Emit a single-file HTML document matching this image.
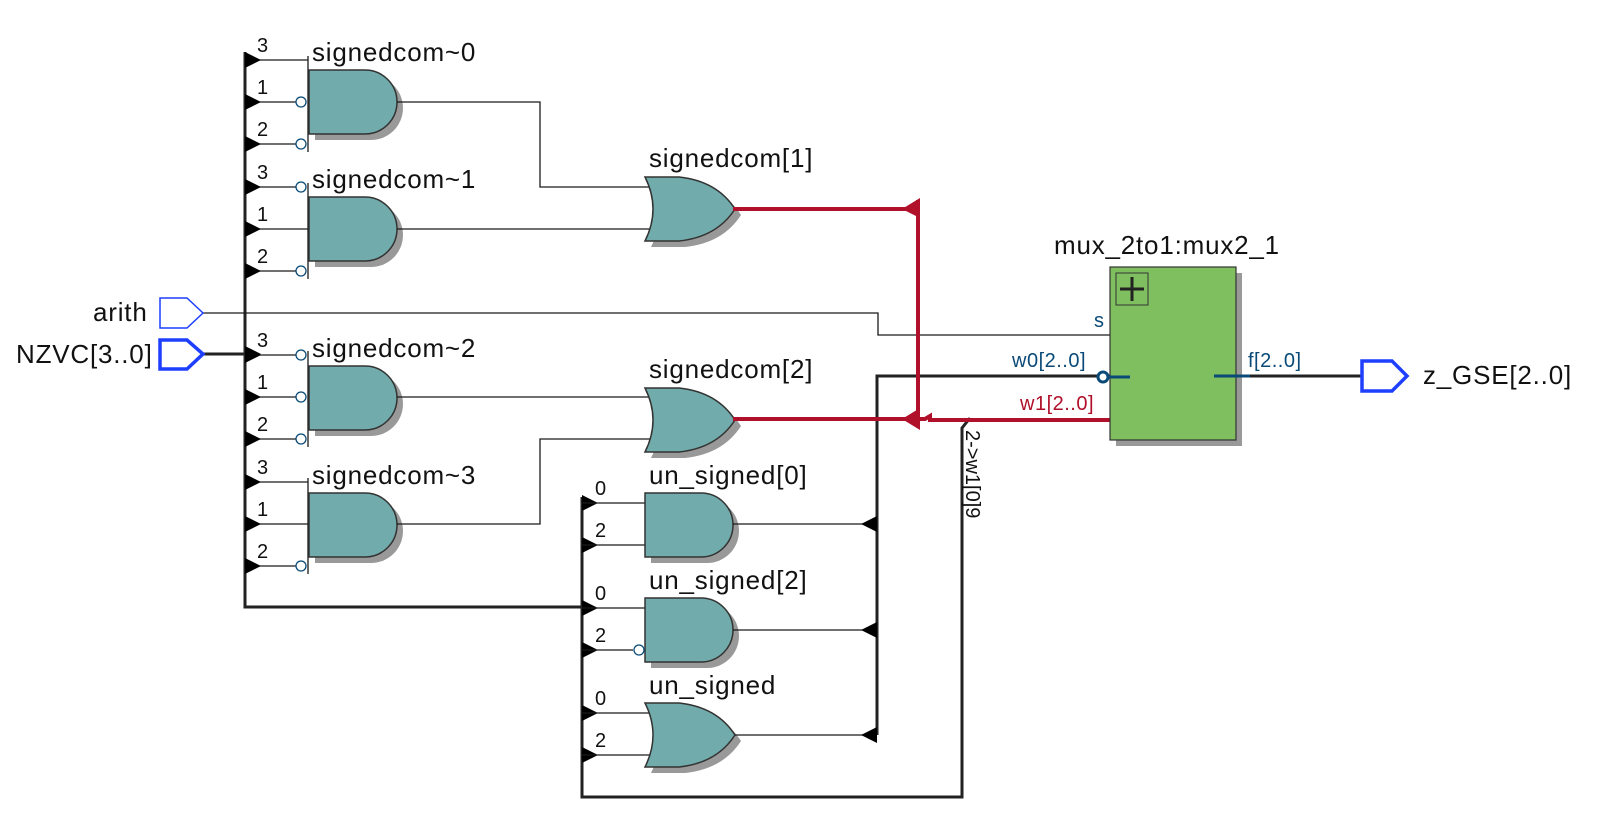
<!DOCTYPE html>
<html><head><meta charset="utf-8"><style>
html,body{margin:0;padding:0;background:#fff;width:1599px;height:839px;overflow:hidden}
svg{display:block}
text{font-family:"Liberation Sans",sans-serif}
.lbl{font-size:26px;fill:#111;letter-spacing:0.8px}
.num{font-size:20px;fill:#111}
.w{stroke:#1a1a1a;stroke-width:1.3;fill:none}
.wb{stroke:#222;stroke-width:3;fill:none}
.r{stroke:#b0102a;stroke-width:4;fill:none}
.g{fill:#71abab;stroke:#333;stroke-width:1.5}
.sh{fill:#999}
.bub{fill:#fff;stroke:#0a4a78;stroke-width:1.3}
</style></head><body>
<svg width="1599" height="839" viewBox="0 0 1599 839">
<defs>
<g id="and">
<path class="sh" d="M6 6 H62 A32 32 0 0 1 62 70 H6 Z"/>
<path class="g" d="M0 0 H56 A32 32 0 0 1 56 64 H0 Z"/>
</g>
<g id="or">
<path class="sh" d="M6 6 H40 Q78 10 96 38 Q78 66 40 70 H6 Q22 38 6 6 Z"/>
<path class="g" d="M0 0 H34 Q72 4 90 32 Q72 60 34 64 H0 Q16 32 0 0 Z"/>
</g>
<path id="tri" d="M0 -8 L16 0 L0 8 Z" fill="#000"/>
<path id="tril" d="M0 -8 L-16 0 L0 8 Z" fill="#000"/>
</defs>

<path class="wb" d="M245 52 V607 H582"/>
<g>
<line class="w" x1="308" y1="56" x2="308" y2="152"/>
<line class="w" x1="245" y1="60" x2="308" y2="60"/>
<line class="w" x1="245" y1="102" x2="296" y2="102"/>
<line class="w" x1="245" y1="144" x2="296" y2="144"/>
<use href="#and" x="309" y="70"/>
<circle class="bub" cx="301" cy="102" r="5"/><circle class="bub" cx="301" cy="144" r="5"/>
<use href="#tri" x="245" y="60"/><use href="#tri" x="245" y="102"/><use href="#tri" x="245" y="144"/>
<text class="num" x="257" y="52">3</text><text class="num" x="257" y="94">1</text><text class="num" x="257" y="136">2</text>
<text class="lbl" x="312" y="61">signedcom~0</text>

<line class="w" x1="308" y1="183" x2="308" y2="279"/>
<line class="w" x1="245" y1="187" x2="296" y2="187"/>
<line class="w" x1="245" y1="229" x2="308" y2="229"/>
<line class="w" x1="245" y1="271" x2="296" y2="271"/>
<use href="#and" x="309" y="197"/>
<circle class="bub" cx="301" cy="187" r="5"/><circle class="bub" cx="301" cy="271" r="5"/>
<use href="#tri" x="245" y="187"/><use href="#tri" x="245" y="229"/><use href="#tri" x="245" y="271"/>
<text class="num" x="257" y="179">3</text><text class="num" x="257" y="221">1</text><text class="num" x="257" y="263">2</text>
<text class="lbl" x="312" y="188">signedcom~1</text>

<line class="w" x1="308" y1="351" x2="308" y2="447"/>
<line class="w" x1="245" y1="355" x2="296" y2="355"/>
<line class="w" x1="245" y1="397" x2="296" y2="397"/>
<line class="w" x1="245" y1="439" x2="296" y2="439"/>
<use href="#and" x="309" y="366"/>
<circle class="bub" cx="301" cy="355" r="5"/><circle class="bub" cx="301" cy="397" r="5"/><circle class="bub" cx="301" cy="439" r="5"/>
<use href="#tri" x="245" y="355"/><use href="#tri" x="245" y="397"/><use href="#tri" x="245" y="439"/>
<text class="num" x="257" y="347">3</text><text class="num" x="257" y="389">1</text><text class="num" x="257" y="431">2</text>
<text class="lbl" x="312" y="357">signedcom~2</text>

<line class="w" x1="308" y1="478" x2="308" y2="574"/>
<line class="w" x1="245" y1="482" x2="308" y2="482"/>
<line class="w" x1="245" y1="524" x2="308" y2="524"/>
<line class="w" x1="245" y1="566" x2="296" y2="566"/>
<use href="#and" x="309" y="493"/>
<circle class="bub" cx="301" cy="566" r="5"/>
<use href="#tri" x="245" y="482"/><use href="#tri" x="245" y="524"/><use href="#tri" x="245" y="566"/>
<text class="num" x="257" y="474">3</text><text class="num" x="257" y="516">1</text><text class="num" x="257" y="558">2</text>
<text class="lbl" x="312" y="484">signedcom~3</text>
</g>

<path class="w" d="M397 102 H540 V187 H655"/>
<path class="w" d="M397 229 H655"/>
<path class="w" d="M397 397 H655"/>
<path class="w" d="M397 524 H540 V439 H655"/>
<use href="#or" x="645" y="177"/>
<use href="#or" x="645" y="388"/>
<text class="lbl" x="649" y="167">signedcom[1]</text>
<text class="lbl" x="649" y="378">signedcom[2]</text>

<path class="w" d="M203 313 H878 V335 H1130"/>
<path d="M160 298 H187 L203 313 L187 328 H160 Z" fill="#fff" stroke="#1f3fff" stroke-width="1.5"/>
<text class="lbl" x="93" y="321">arith</text>
<path class="wb" d="M203 354 H245"/>
<use href="#tri" x="245" y="354"/>
<path d="M160 340 H187 L203 354 L187 369 H160 Z" fill="#fff" stroke="#1f3fff" stroke-width="3.5"/>
<text class="lbl" x="16" y="363">NZVC[3..0]</text>

<path class="wb" d="M582 497 V797 H962 V428 L970 418"/>
<use href="#tri" x="582" y="503"/><use href="#tri" x="582" y="545"/>
<use href="#tri" x="582" y="608"/><use href="#tri" x="582" y="650"/>
<use href="#tri" x="582" y="713"/><use href="#tri" x="582" y="755"/>
<text class="num" x="595" y="495">0</text><text class="num" x="595" y="537">2</text>
<text class="num" x="595" y="600">0</text><text class="num" x="595" y="642">2</text>
<text class="num" x="595" y="705">0</text><text class="num" x="595" y="747">2</text>
<line class="w" x1="582" y1="503" x2="655" y2="503"/><line class="w" x1="582" y1="545" x2="655" y2="545"/>
<line class="w" x1="582" y1="608" x2="645" y2="608"/><line class="w" x1="582" y1="650" x2="633" y2="650"/>
<line class="w" x1="582" y1="713" x2="655" y2="713"/><line class="w" x1="582" y1="755" x2="655" y2="755"/>
<use href="#and" x="645" y="493"/>
<use href="#and" x="645" y="598"/>
<circle class="bub" cx="639" cy="650" r="5"/>
<use href="#or" x="645" y="703"/>
<text class="lbl" x="649" y="484">un_signed[0]</text>
<text class="lbl" x="649" y="589">un_signed[2]</text>
<text class="lbl" x="649" y="694">un_signed</text>
<path class="w" d="M733 524 H877 M733 630 H877 M735 735 H877"/>
<path class="wb" d="M877 735 V376 H1130"/>
<use href="#tril" x="877" y="524"/><use href="#tril" x="877" y="630"/><use href="#tril" x="877" y="735"/>
<text class="num" transform="translate(966,430) rotate(90)" x="0" y="0">2-&gt;w1[0]9</text>

<path class="r" d="M733 209 H918 M918 200 V420 M733 419 H918 L925 419 L930 416 V420 H1130"/>
<path d="M920 198 L902 209 L920 218 Z" fill="#b0102a"/>
<path d="M920 408 L902 419 L920 430 Z" fill="#b0102a"/>

<rect x="1116" y="273" width="126" height="173" fill="#999"/>
<rect x="1110" y="267" width="126" height="173" fill="#80bf5f" stroke="#333" stroke-width="1.2"/>
<rect x="1116" y="273" width="32" height="32" fill="none" stroke="#333" stroke-width="1"/>
<path d="M1120 289 H1144 M1132 277 V301" stroke="#222" stroke-width="3"/>
<text class="lbl" x="1054" y="254">mux_2to1:mux2_1</text>
<text x="1094" y="327" font-size="20" fill="#0a4a78">s</text>
<text x="1012" y="367" font-size="20" fill="#0a4a78" letter-spacing="0.5">w0[2..0]</text>
<text x="1020" y="410" font-size="20" fill="#b0102a" letter-spacing="0.5">w1[2..0]</text>
<circle cx="1103" cy="377" r="5" fill="#fff" stroke="#0a4a78" stroke-width="3"/>
<path d="M1109 377 H1130" stroke="#0a4a78" stroke-width="3"/>
<text x="1248" y="367" font-size="20" fill="#0a4a78" letter-spacing="0.5">f[2..0]</text>
<path d="M1214 376 H1362" stroke="#222" stroke-width="3"/>
<path d="M1214 376 H1250" stroke="#0a4a78" stroke-width="3"/>
<path d="M1362 361 H1392 L1407 376 L1392 391 H1362 Z" fill="#fff" stroke="#1f3fff" stroke-width="3.5"/>
<text class="lbl" x="1423" y="384">z_GSE[2..0]</text>
</svg>
</body></html>
